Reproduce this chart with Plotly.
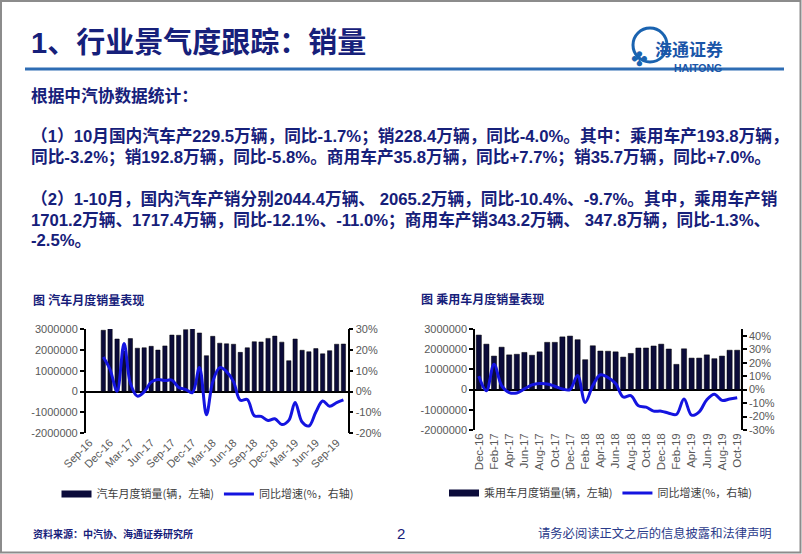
import plotly.graph_objects as go

W, H = 802, 554

# ---- data ----
total_months = ["2016-11-01", "2016-12-01", "2017-01-01", "2017-02-01", "2017-03-01", "2017-04-01",
                "2017-05-01", "2017-06-01", "2017-07-01", "2017-08-01", "2017-09-01", "2017-10-01",
                "2017-11-01", "2017-12-01", "2018-01-01", "2018-02-01", "2018-03-01", "2018-04-01",
                "2018-05-01", "2018-06-01", "2018-07-01", "2018-08-01", "2018-09-01", "2018-10-01",
                "2018-11-01", "2018-12-01", "2019-01-01", "2019-02-01", "2019-03-01", "2019-04-01",
                "2019-05-01", "2019-06-01", "2019-07-01", "2019-08-01", "2019-09-01", "2019-10-01"]
total_sales = [2940000, 3060000, 2520000, 1940000, 2540000, 2080000, 2100000, 2170000, 1990000,
               2190000, 2710000, 2700000, 2970000, 3060000, 2810000, 1720000, 2650000, 2320000,
               2290000, 2270000, 1880000, 2100000, 2390000, 2380000, 2550000, 2660000, 2370000,
               1480000, 2520000, 1980000, 1910000, 2060000, 1810000, 1960000, 2270000, 2280000]
total_yoy = [16.6, 10.6, 0.2, 23.0, 4.0, -2.2, -0.1, 4.5, 5.8, 5.3, 5.5, 2.0, 1.0, -0.5, 11.6, -11.1,
             4.7, 11.5, 9.6, 4.8, -4.2, -3.8, -11.6, -11.9, -13.9, -13.0, -15.8, -13.8, -5.2, -14.6,
             -16.5, -9.8, -4.5, -7.0, -5.3, -4.0]
total_ticks = ["2016-09-01", "2016-12-01", "2017-03-01", "2017-06-01", "2017-09-01", "2017-12-01",
               "2018-03-01", "2018-06-01", "2018-09-01", "2018-12-01", "2019-03-01", "2019-06-01",
               "2019-09-01"]

pv_months = ["Dec-16", "Jan-17", "Feb-17", "Mar-17", "Apr-17", "May-17", "Jun-17", "Jul-17", "Aug-17",
             "Sep-17", "Oct-17", "Nov-17", "Dec-17", "Jan-18", "Feb-18", "Mar-18", "Apr-18", "May-18",
             "Jun-18", "Jul-18", "Aug-18", "Sep-18", "Oct-18", "Nov-18", "Dec-18", "Jan-19", "Feb-19",
             "Mar-19", "Apr-19", "May-19", "Jun-19", "Jul-19", "Aug-19", "Sep-19", "Oct-19"]
pv_sales = [2700000, 2250000, 1660000, 2100000, 1720000, 1750000, 1840000, 1700000, 1870000,
            2340000, 2340000, 2610000, 2650000, 2470000, 1480000, 2170000, 1910000, 1900000,
            1870000, 1610000, 1790000, 2060000, 2060000, 2160000, 2250000, 2010000, 1250000,
            2020000, 1560000, 1560000, 1720000, 1530000, 1660000, 1950000, 1950000]
pv_yoy = [10.0, -0.8, 18.8, 3.0, -2.2, -2.5, 0.5, 3.5, 4.5, 4.2, 2.5, 0.5, 0.0, 10.5, -9.5, 3.0,
          11.0, 9.0, 4.5, -5.5, -4.5, -12.0, -13.0, -16.0, -16.0, -17.5, -18.5, -7.0, -19.0, -16.5,
          -7.5, -3.5, -8.0, -7.0, -6.0]

left_ticks = [-2000000, -1000000, 0, 1000000, 2000000, 3000000]
total_pct_ticks = [-20, -10, 0, 10, 20, 30]
pv_pct_ticks = [-30, -20, -10, 0, 10, 20, 30, 40]

NAVY = "#16207a"
BAR = "#0b0b3a"
LINE = "#1414e0"
GREY = "#595959"
CJK = "Liberation Sans, Noto Sans CJK SC"


def px(x):
    return x / W


def py(y):
    return 1 - y / H


fig = go.Figure()

# left chart
fig.add_trace(go.Bar(x=total_months, y=total_sales, marker=dict(color=BAR, line=dict(color="black", width=0.5)),
                     xaxis="x", yaxis="y", showlegend=False))
fig.add_trace(go.Scatter(x=total_months, y=total_yoy, mode="lines", line=dict(color=LINE, width=3, shape="spline"),
                         xaxis="x", yaxis="y2", showlegend=False))
fig.add_trace(go.Scatter(x=[None], y=[None], mode="lines", line=dict(color=BAR, width=7),
                         name="汽车月度销量(辆，左轴)", xaxis="x", yaxis="y", legend="legend"))
fig.add_trace(go.Scatter(x=[None], y=[None], mode="lines", line=dict(color=LINE, width=3),
                         name="同比增速(%，右轴)", xaxis="x", yaxis="y", legend="legend"))

# right chart
fig.add_trace(go.Bar(x=pv_months, y=pv_sales, marker=dict(color=BAR, line=dict(color="black", width=0.5)),
                     xaxis="x2", yaxis="y3", showlegend=False))
fig.add_trace(go.Scatter(x=pv_months, y=pv_yoy, mode="lines", line=dict(color=LINE, width=3, shape="spline"),
                         xaxis="x2", yaxis="y4", showlegend=False))
fig.add_trace(go.Scatter(x=[None], y=[None], mode="lines", line=dict(color=BAR, width=7),
                         name="乘用车月度销量(辆，左轴)", xaxis="x2", yaxis="y3", legend="legend2"))
fig.add_trace(go.Scatter(x=[None], y=[None], mode="lines", line=dict(color=LINE, width=3),
                         name="同比增速(%，右轴)", xaxis="x2", yaxis="y3", legend="legend2"))

tickfont = dict(family="Liberation Sans, Arial", size=11, color=GREY)
yax = dict(showline=True, linecolor="black", linewidth=1.5, ticks="outside", ticklen=4, tickcolor="black",
           tickwidth=1.5, showgrid=False, tickfont=tickfont, fixedrange=True, automargin=False)

fig.update_layout(
    width=W, height=H, margin=dict(l=0, r=0, t=0, b=0, pad=0, autoexpand=False),
    paper_bgcolor="white", plot_bgcolor="rgba(0,0,0,0)",
    bargap=0.32,
    xaxis=dict(domain=[px(85.7), px(347.7)], anchor="y", type="date",
               range=["2016-08-15", "2019-10-20"], tickvals=total_ticks, tickformat="%b-%y",
               tickangle=-45, showgrid=False, showline=False, ticks="", tickfont=tickfont,
               automargin=False),
    yaxis=dict(domain=[py(433.3), py(329)], anchor="x", range=[-2000000, 3000000],
               tickvals=left_ticks, ticktext=[str(v) for v in left_ticks],
               zeroline=True, zerolinecolor="black", zerolinewidth=1.5, **yax),
    yaxis2=dict(overlaying="y", anchor="x", side="right", range=[-20, 30],
                tickvals=total_pct_ticks, ticktext=[f"{v}%" for v in total_pct_ticks],
                zeroline=False, **yax),
    xaxis2=dict(domain=[px(475), px(741)], anchor="y3", type="category", range=[-0.5, 34.5],
                tickvals=pv_months[::2], tickangle=-90, showgrid=False, showline=False, ticks="",
                tickfont=dict(family="Liberation Sans, Arial", size=11.5, color=GREY),
                automargin=False),
    yaxis3=dict(domain=[py(430), py(329)], anchor="x2", range=[-2000000, 3000000],
                tickvals=left_ticks, ticktext=[str(v) for v in left_ticks],
                zeroline=True, zerolinecolor="black", zerolinewidth=1.5, **yax),
    yaxis4=dict(overlaying="y3", anchor="x2", side="right", range=[-30, 45],
                tickvals=pv_pct_ticks, ticktext=[f"{v}%" for v in pv_pct_ticks],
                zeroline=False, **yax),
    legend=dict(orientation="h", x=px(208), y=py(494), xanchor="center", yanchor="middle",
                itemwidth=30, font=dict(family="Noto Sans CJK SC", size=11, color="#404040"),
                bgcolor="rgba(0,0,0,0)", tracegroupgap=0),
    legend2=dict(orientation="h", x=px(601), y=py(493), xanchor="center", yanchor="middle",
                 itemwidth=30, font=dict(family="Noto Sans CJK SC", size=11, color="#404040"),
                 bgcolor="rgba(0,0,0,0)", tracegroupgap=0),
)

# slide frame and header rule
fig.add_shape(type="rect", xref="paper", yref="paper", x0=px(1), x1=px(800.5), y0=py(552.5), y1=py(1),
              line=dict(color="#8c8c8c", width=2))
fig.add_shape(type="line", xref="paper", yref="paper", x0=px(25), x1=px(784), y0=py(69), y1=py(69),
              line=dict(color="#2e6db4", width=3))
# logo
fig.add_shape(type="circle", xref="paper", yref="paper", x0=px(633), x1=px(667), y0=py(62), y1=py(28),
              line=dict(color="#1a63b0", width=3))
fig.add_annotation(x=px(650), y=py(45), text="✤", showarrow=False, xref="paper", yref="paper",
                   font=dict(family="DejaVu Sans", size=20, color="#1a63b0"))
fig.add_annotation(x=px(725), y=py(34), text="<b>海通证券</b>", showarrow=False, xref="paper", yref="paper",
                   font=dict(family="Noto Sans CJK SC", size=17, color="#1a56a8"))
fig.add_annotation(x=px(724), y=py(60), text="<b>HAITONG</b>", showarrow=False, xref="paper", yref="paper",
                   font=dict(family="Liberation Sans", size=10.5, color="#1a56a8"))


def text(x, y, s, size, color=NAVY, family=CJK, anchor="left"):
    fig.add_annotation(x=px(x), y=py(y), text=s, showarrow=False, xref="paper", yref="paper",
                       xanchor=anchor, yanchor="middle", font=dict(family=family, size=size, color=color))


text(29, 43, "<b>1、行业景气度跟踪：销量</b>", 29)
text(29, 96, "<b>根据中汽协数据统计：</b>", 16.7)
text(29, 136, "<b>（1）10月国内汽车产229.5万辆，同比-1.7%；销228.4万辆，同比-4.0%。其中：乘用车产193.8万辆，</b>", 16.7)
text(29, 157, "<b>同比-3.2%；销192.8万辆，同比-5.8%。商用车产35.8万辆，同比+7.7%；销35.7万辆，同比+7.0%。</b>", 16.7)
text(29, 199, "<b>（2）1-10月，国内汽车产销分别2044.4万辆、 2065.2万辆，同比-10.4%、-9.7%。其中，乘用车产销</b>", 16.7)
text(29, 220, "<b>1701.2万辆、1717.4万辆，同比-12.1%、-11.0%；商用车产销343.2万辆、 347.8万辆，同比-1.3%、</b>", 16.7)
text(29, 241, "<b>-2.5%。</b>", 16.7)

text(31, 300, "<b>图 汽车月度销量表现</b>", 12)
text(419, 299, "<b>图 乘用车月度销量表现</b>", 12)

text(31, 534, "<b>资料来源：中汽协、海通证券研究所</b>", 10)
text(401, 533, "2", 15, color=NAVY, family="Liberation Sans", anchor="center")
text(536, 533, "请务必阅读正文之后的信息披露和法律声明", 12.3, color="#2a3a8a", family="Noto Sans CJK SC")

fig.write_html("out.html", config={"displayModeBar": False},
               post_script="document.body.style.margin='0px';")
